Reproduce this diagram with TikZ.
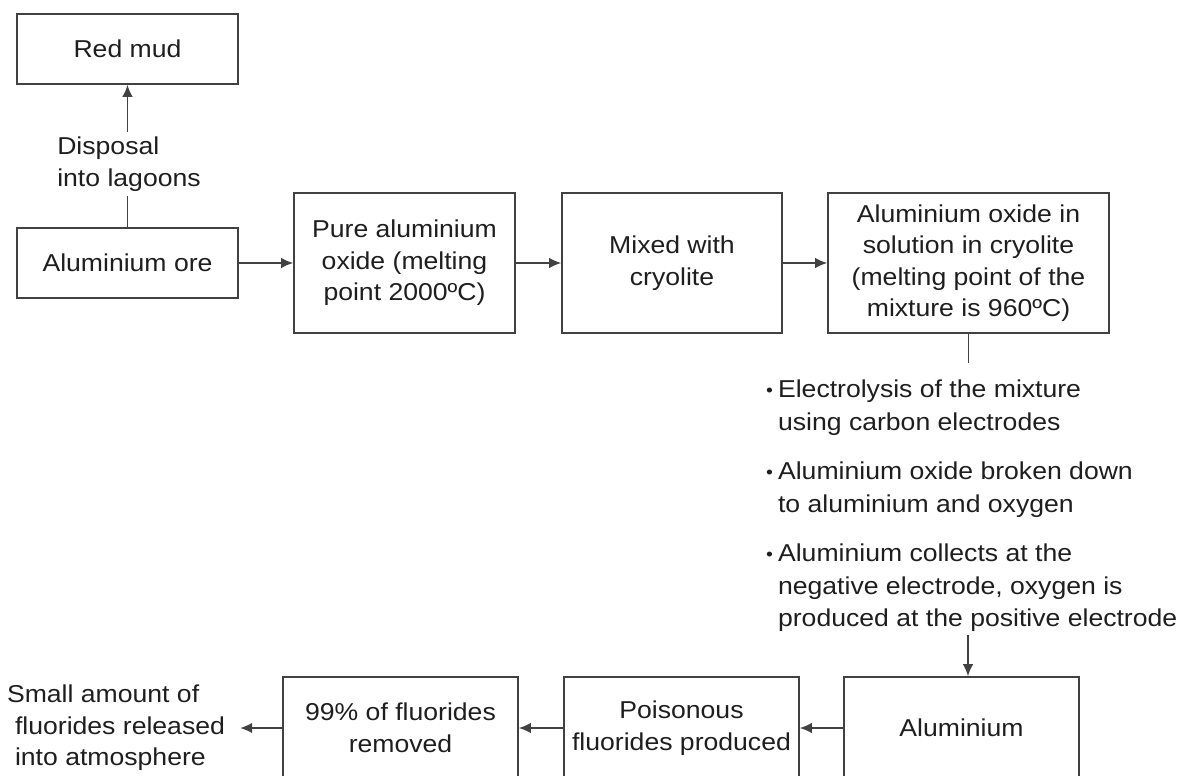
\documentclass[tikz,border=0pt]{standalone}
\usepackage{fontspec}
\setmainfont[FakeStretch=1.09]{Liberation Sans}
\usetikzlibrary{arrows.meta}
\definecolor{ln}{RGB}{65,65,65}
\definecolor{tx}{RGB}{30,30,30}
\newcommand{\bul}{{\fontsize{18}{18}\selectfont\raisebox{1.5pt}{•}}}
\begin{document}
\begin{tikzpicture}[x=1pt,y=-1pt,
  every node/.style={text=tx, font=\fontsize{24.4}{31.5}\selectfont},
  box/.style={draw=ln, line width=1.6pt, align=center, inner sep=0pt},
  arr/.style={draw=ln, line width=1.6pt, -{Latex[length=12pt,width=10.5pt]}},
  conn/.style={draw=ln, line width=1.6pt}]
\useasboundingbox (0,0) rectangle (1181,776);
% top row
\node[box, minimum width=221pt, minimum height=70pt] (red) at (127.5,49) {Red mud};
\node[box, minimum width=221pt, minimum height=70pt] (ore) at (127.5,263) {Aluminium ore};
\node[box, minimum width=221pt, minimum height=140pt] (pure) at (404.5,263) {Pure aluminium\\oxide (melting\\point 2000ºC)};
\node[box, minimum width=220pt, minimum height=140pt] (mix) at (672,263) {Mixed with\\cryolite};
\node[box, minimum width=281pt, minimum height=140pt] (sol) at (968.5,263) {Aluminium oxide in\\solution in cryolite\\(melting point of the\\mixture is 960ºC)};
\node[align=left, inner sep=5pt] (lbl) at (129,164) {Disposal\\into lagoons};
\draw[conn] (ore.north) -- (lbl.south -| ore.north);
\draw[arr] (lbl.north -| red.south) -- (red.south);
\draw[arr] (ore) -- (pure);
\draw[arr] (pure) -- (mix);
\draw[arr] (mix) -- (sol);
% electrolysis text
\coordinate (c1) at (968.5,363);
\draw[conn] (sol.south) -- (c1);
\node[anchor=north west, inner sep=0pt, font=\fontsize{24.4}{32.5}\selectfont] (elec) at (766,374.6) {\begin{tabular}{@{}c@{\hspace{5pt}}l@{}}
\bul & Electrolysis of the mixture\\
 & using carbon electrodes\\[17pt]
\bul & Aluminium oxide broken down\\
 & to aluminium and oxygen\\[17pt]
\bul & Aluminium collects at the\\
 & negative electrode, oxygen is\\
 & produced at the positive electrode
\end{tabular}};
% bottom row
\node[box, minimum width=235pt, minimum height=102pt] (al) at (961.5,728) {Aluminium};
\node[box, minimum width=235pt, minimum height=102pt] (poi) at (681.5,728) {Poisonous\\fluorides produced};
\node[box, minimum width=235pt, minimum height=102pt] (rem) at (400.5,728) {99\% of fluorides\\removed};
\node[align=left, inner xsep=15pt, inner ysep=0pt] (small) at (120,728) {\hspace*{-8pt}Small amount of\\fluorides released\\into atmosphere};
\coordinate (c2) at (968,635);
\draw[arr] (c2) -- (c2 |- al.north);
\draw[arr] (al) -- (poi);
\draw[arr] (poi) -- (rem);
\draw[arr] (rem) -- (small);
\end{tikzpicture}
\end{document}
